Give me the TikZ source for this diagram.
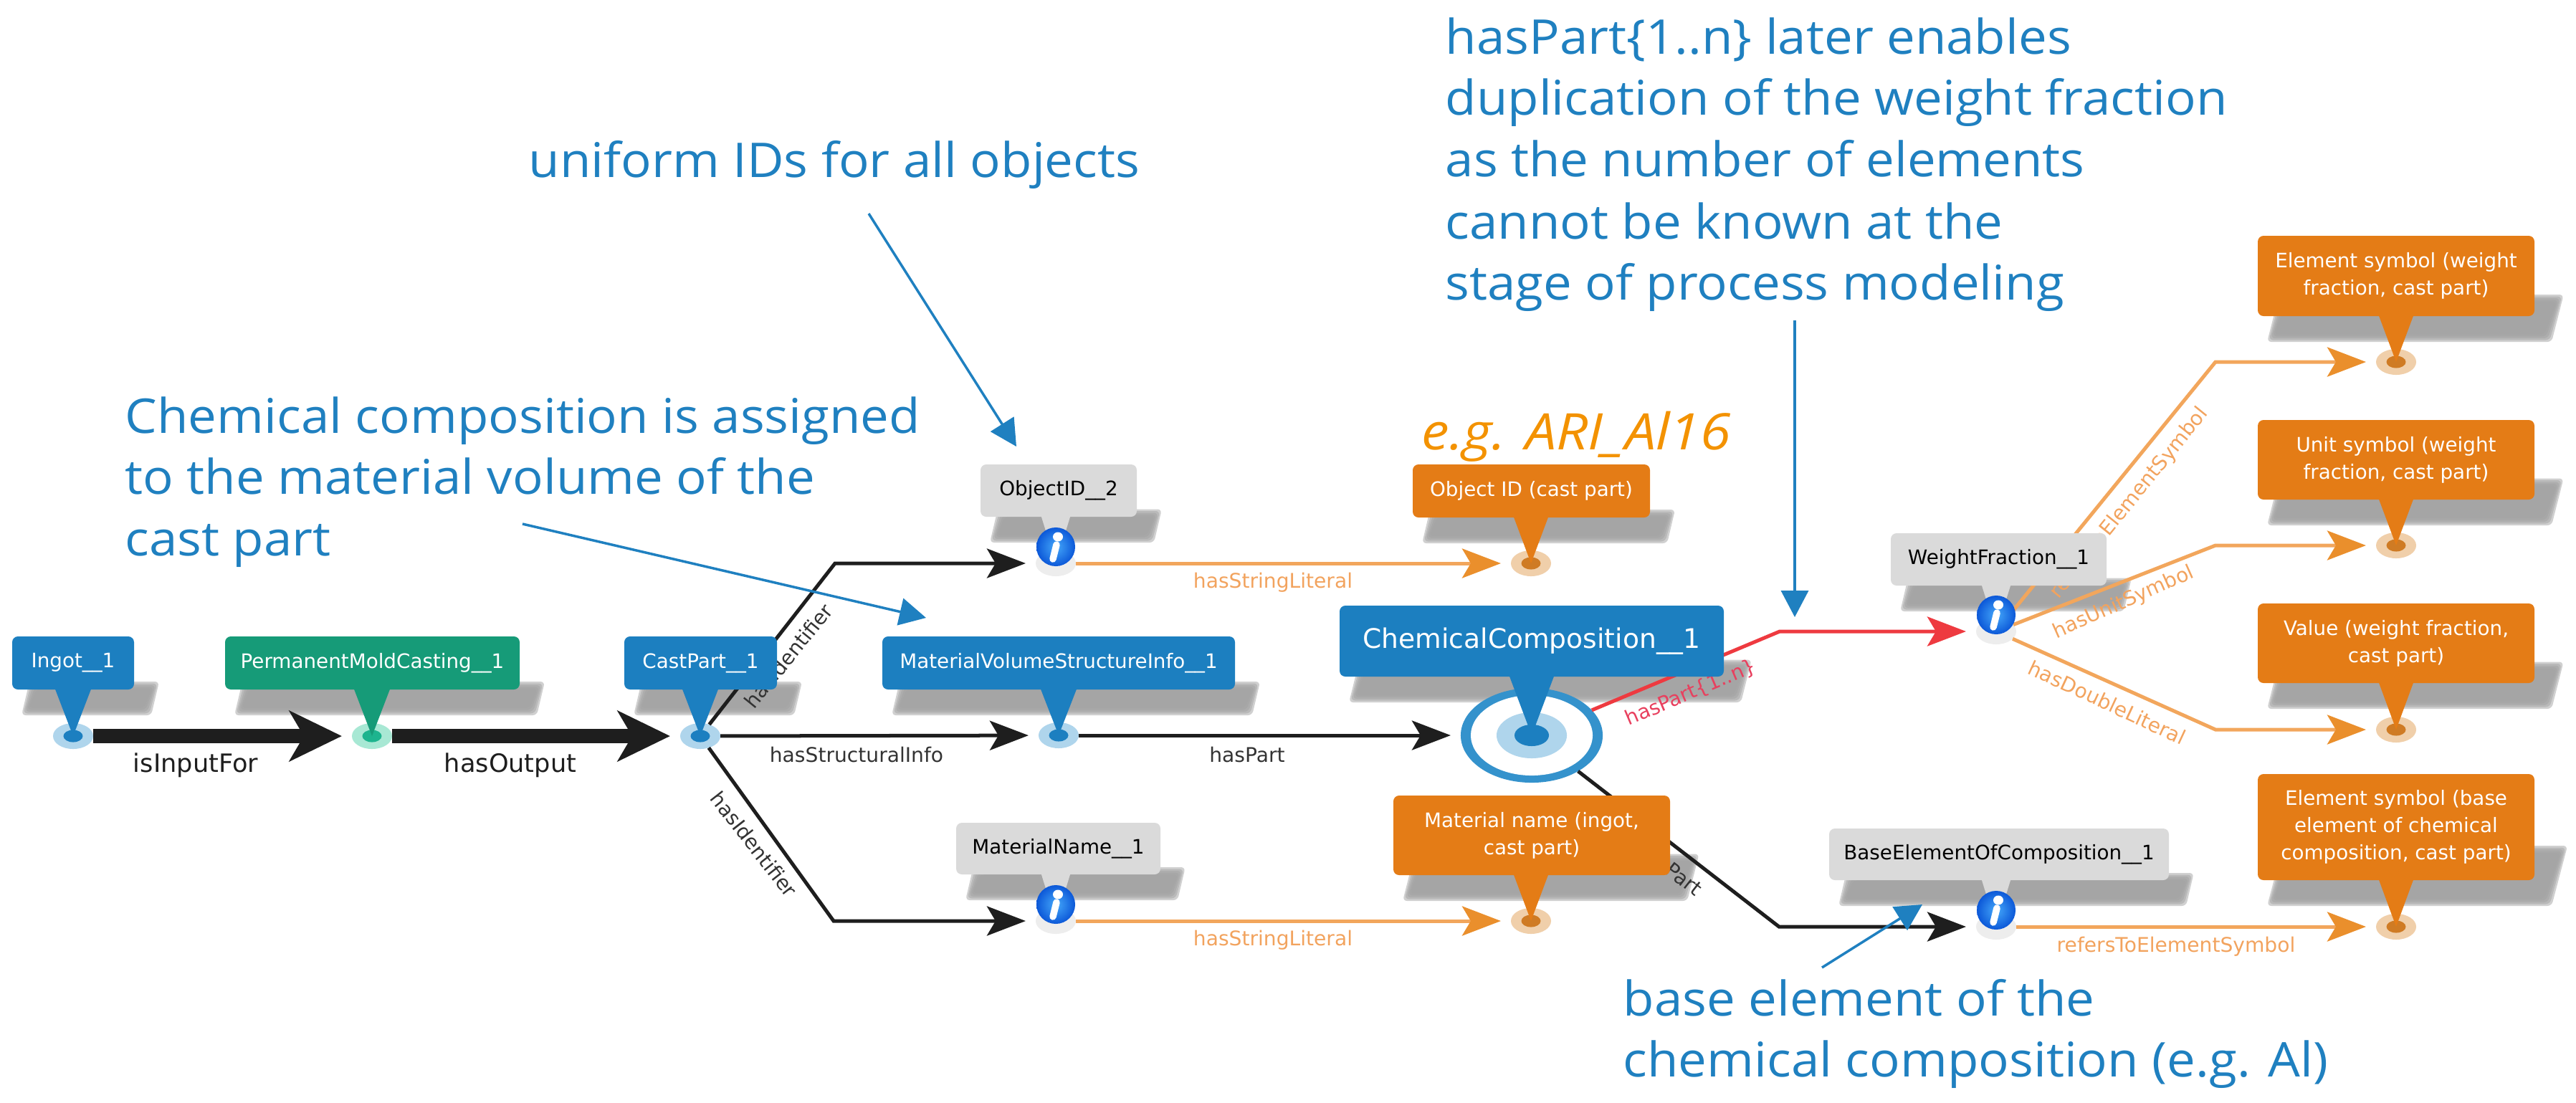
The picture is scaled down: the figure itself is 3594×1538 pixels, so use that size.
\documentclass[tikz,border=0pt]{standalone}
\usepackage{fontspec}
\usetikzlibrary{arrows.meta,shapes.geometric}
\newfontfamily\djv{DejaVu Sans}
\newfontfamily\blu{Open Sans}[FakeStretch=1.06]
\newfontfamily\egf{Open Sans}[FakeStretch=1.1]
\definecolor{cblue}{HTML}{1C7FC0}
\definecolor{cbluel}{HTML}{AFD5EC}
\definecolor{cring}{HTML}{3492CC}
\definecolor{cgreen}{HTML}{169B78}
\definecolor{cgreenl}{HTML}{A8E8D4}
\definecolor{cgreenc}{HTML}{1DB48E}
\definecolor{corange}{HTML}{E47C16}
\definecolor{corangel}{HTML}{F0CFAA}
\definecolor{corangec}{HTML}{CF7B24}
\definecolor{cgray}{HTML}{DADADA}
\definecolor{cgrayb}{HTML}{C4C4C4}
\definecolor{chalo}{HTML}{EDEDED}
\definecolor{cshadow}{HTML}{A2A2A2}
\definecolor{cline}{HTML}{1E1E1E}
\definecolor{clab}{HTML}{333333}
\definecolor{coline}{HTML}{F2A65C}
\definecolor{cohead}{HTML}{EA8F2C}
\definecolor{colab}{HTML}{F2A35E}
\definecolor{cred}{HTML}{EE3A40}
\definecolor{credl}{HTML}{E8405E}
\definecolor{cnote}{HTML}{1F80C0}
\definecolor{ceg}{HTML}{F39200}
\definecolor{cicona}{HTML}{45A8FA}
\definecolor{ciconb}{HTML}{0C58D8}
\tikzset{
  pt/.style={ellipse,inner sep=0pt,outer sep=0pt,minimum width=.56cm,minimum height=.36cm},
  box/.style={rectangle,rounded corners=.08cm,inner sep=0pt,outer sep=0pt,align=center,
     font=\djv\fontsize{7.9}{10.8}\selectfont},
  wbox/.style={box,text=white},
  gbox/.style={box,fill=cgray},
  lbl/.style={inner sep=0pt,font=\djv\fontsize{8}{10}\selectfont,text=clab},
  olbl/.style={lbl,text=colab},
  big/.style={lbl,font=\djv\fontsize{10}{12}\selectfont,text=cline},
  thick arr/.style={line width=.2cm,draw=cline,shorten >=.14cm,
     -{Stealth[length=.73cm,width=.70cm,inset=.2cm,color=cline]}},
  thin arr/.style={line width=.05cm,draw=cline,shorten >=.14cm,line join=miter,
     -{Stealth[length=.54cm,width=.41cm,inset=.12cm,color=cline]}},
  o arr/.style={line width=.05cm,draw=coline,shorten >=.14cm,
     -{Stealth[length=.54cm,width=.41cm,inset=.12cm,color=cohead]}},
  r arr/.style={line width=.05cm,draw=cred,shorten >=.14cm,
     -{Stealth[length=.54cm,width=.41cm,inset=.12cm,color=cred]}},
  note/.style={inner sep=0pt,anchor=base west,text=cnote,font=\blu\fontsize{19}{24.3}\selectfont,align=left},
  note arr/.style={line width=.035cm,draw=cnote,-{Triangle[length=.37cm,width=.38cm,color=cnote]}},
}
% endpoint: name,x,y,halo,core
\newcommand{\ptnode}[5]{%
  \node[pt,fill=#4] (#1) at (#2,#3) {};
  \fill[#5] (#1.center) ellipse [x radius=.135cm,y radius=.085cm];}
% info icon on top of a gray endpoint
\newcommand{\infoicon}[1]{%
  \begin{scope}[shift={([yshift=.23cm]#1.center)},x=.01cm,y=.01cm]
    \shade[inner color=cicona,outer color=ciconb] (0,0) circle [radius=.27cm];
    \fill[white] (3,14) ellipse [x radius=.07cm,y radius=.065cm];
    \draw[white,line width=.095cm,line cap=round] (1,3) -- (-4,-17);
  \end{scope}}
% box pass 1: skewed ground shadow (x1,y1,x2,y2)
\newcommand{\cbshadow}[9]{%
  \pgfmathsetmacro{\sb}{#4+31}%
  \pgfmathsetmacro{\sh}{.5*(#4-#2)}%
  \pgfmathsetmacro{\st}{\sb-\sh}%
  \pgfmathsetmacro{\ss}{.3*\sh}%
  \foreach \d in {5,2.5,0,-2.5,-5}
    \fill[cshadow,opacity=.5,rounded corners=.06cm]
      ({#1+18-\d},{\sb+\d}) -- ({#3+19+\d},{\sb+\d}) -- ({#3+19+\ss+\d},{\st-\d}) -- ({#1+18+\ss-\d},{\st-\d}) -- cycle;}
% box pass 2: name in #5, target #6, half base #7, style #8, text #9
\newcommand{\cbbox}[9]{%
  \node[#8,minimum width={(#3-#1)*0.01cm},minimum height={(#4-#2)*0.01cm}] (#5)
     at ({(#1+#3)/2},{(#2+#4)/2}) {#9};
  \path[#8,sharp corners,draw=none] ([xshift=-#7 cm,yshift=.03cm]#6.center |- #5.south) -- ([xshift=#7 cm,yshift=.03cm]#6.center |- #5.south) -- (#6.center) -- cycle;}
\newcommand{\boxlist}{%
  \cb{17}{888}{187}{962}{bIngot}{ingot}{.26}{wbox,fill=cblue}{Ingot\_\_1}
  \cb{314}{888}{725}{962}{bPerm}{perm}{.26}{wbox,fill=cgreen}{PermanentMoldCasting\_\_1}
  \cb{871}{888}{1084}{962}{bCast}{cast}{.26}{wbox,fill=cblue}{CastPart\_\_1}
  \cb{1368}{648}{1586}{721}{bObj}{obj}{.21}{gbox}{ObjectID\_\_2}
  \cb{1231}{888}{1723}{962}{bMv}{mv}{.26}{wbox,fill=cblue}{MaterialVolumeStructureInfo\_\_1}
  \cb{1971}{648}{2302}{722}{bObjId}{objid}{.25}{wbox,fill=corange}{Object ID (cast part)}
  \cb{1334}{1148}{1619}{1220}{bMat}{mat}{.21}{gbox}{MaterialName\_\_1}
  \cb{1944}{1110}{2330}{1221}{bMatN}{matn}{.25}{wbox,fill=corange}{Material name (ingot,\\cast part)}
  \cb{2638}{744}{2939}{817}{bWf}{wf}{.21}{gbox}{WeightFraction\_\_1}
  \cb{2552}{1156}{3026}{1228}{bBase}{base}{.21}{gbox}{BaseElementOfComposition\_\_1}
  \cb{3150}{329}{3536}{441}{bEs}{es}{.25}{wbox,fill=corange}{Element symbol (weight\\fraction, cast part)}
  \cb{3150}{586}{3536}{697}{bUs}{us}{.25}{wbox,fill=corange}{Unit symbol (weight\\fraction, cast part)}
  \cb{3150}{842}{3536}{953}{bVa}{va}{.25}{wbox,fill=corange}{Value (weight fraction,\\cast part)}
  \cb{3150}{1080}{3536}{1228}{bBs}{bs}{.25}{wbox,fill=corange}{Element symbol (base\\element of chemical\\composition, cast part)}
  \cb{1869}{845}{2405}{944}{bChem}{chem}{.32}{wbox,fill=cblue,font=\djv\fontsize{10.7}{13}\selectfont}{ChemicalComposition\_\_1}
}
\begin{document}
\begin{tikzpicture}[x=.01cm,y=-.01cm]
\useasboundingbox (0,0) rectangle (3594,1538);
% shadows
\let\cb\cbshadow \boxlist
% endpoints
\ptnode{ingot}{102}{1027}{cbluel}{cblue}
\ptnode{perm}{519}{1027}{cgreenl}{cgreenc}
\ptnode{cast}{977}{1027}{cbluel}{cblue}
\ptnode{mv}{1477}{1026}{cbluel}{cblue}
\node[pt,fill=chalo] (obj) at (1473,786) {};
\node[pt,fill=chalo] (mat) at (1473,1285) {};
\node[pt,fill=chalo] (wf) at (2785,881) {};
\node[pt,fill=chalo] (base) at (2785,1293) {};
\ptnode{objid}{2136}{786}{corangel}{corangec}
\ptnode{matn}{2136}{1285}{corangel}{corangec}
\ptnode{es}{3343}{505}{corangel}{corangec}
\ptnode{us}{3343}{761}{corangel}{corangec}
\ptnode{va}{3343}{1018}{corangel}{corangec}
\ptnode{bs}{3343}{1293}{corangel}{corangec}
\node[ellipse,inner sep=0pt,outer sep=0pt,minimum width=1.98cm,minimum height=1.32cm,fill=cring] (chem) at (2137,1026) {};
\fill[white] (chem.center) ellipse [x radius=.85cm,y radius=.56cm];
\fill[cbluel] (chem.center) ellipse [x radius=.49cm,y radius=.32cm];
\fill[cblue] (chem.center) ellipse [x radius=.24cm,y radius=.15cm];
% bends
\coordinate (bU) at (1165,786);
\coordinate (bL) at (1163,1285);
\coordinate (bR) at (2483,881);
\coordinate (bB) at (2482,1293);
\coordinate (bE) at (3091,505);
\coordinate (bN) at (3091,761);
\coordinate (bD) at (3091,1018);
% connectors
\draw[thick arr] (ingot) -- (perm);
\draw[thick arr] (perm) -- (cast);
\draw[thin arr] (cast) -- (bU) -- (obj);
\draw[thin arr] (cast) -- (mv);
\draw[thin arr] (cast) -- (bL) -- (mat);
\draw[thin arr] (mv) -- (chem);
\draw[thin arr] (chem) -- (bB) -- (base);
\draw[r arr] (chem) -- (bR) -- (wf);
\draw[o arr] (obj) -- (objid);
\draw[o arr] (mat) -- (matn);
\draw[o arr] (wf) -- (bE) -- (es);
\draw[o arr] (wf) -- (bN) -- (us);
\draw[o arr] (wf) -- (bD) -- (va);
\draw[o arr] (base) -- (bs);
% connector labels
\node[big] (lA) at (273,1068) {isInputFor};
\node[big] (lB) at (712,1068) {hasOutput};
\node[lbl] (lC) at (1195,1053) {hasStructuralInfo};
\node[lbl] (lD) at (1740,1053) {hasPart};
\node[lbl,rotate=51] (lE) at (1100,915) {hasIdentifier};
\node[lbl,rotate=-52] (lF) at (1052,1178) {hasIdentifier};
\node[olbl] (lG) at (1776,813) {hasStringLiteral};
\node[olbl] (lH) at (1776,1312) {hasStringLiteral};
\node[lbl,text=credl,rotate=23] (lI) at (2359,967) {hasPart\{1..n\}};
\node[olbl,rotate=51] (lJ) at (2971,702) {refersToElementSymbol};
\node[olbl,rotate=24] (lK) at (2963,841) {hasUnitSymbol};
\node[olbl,rotate=-25] (lL) at (2940,980) {hasDoubleLiteral};
\node[olbl] (lM) at (3036,1321) {refersToElementSymbol};
\node[lbl,rotate=-38] (lN) at (2330,1211) {hasPart};
% boxes
\let\cb\cbbox \boxlist
% info icons
\infoicon{obj}
\infoicon{mat}
\infoicon{wf}
\infoicon{base}
% annotations
\node[note] (n1) at (737,247) {uniform IDs for all objects};
\node[note] (n2) at (174,604) {Chemical composition is assigned};
\node[note] (n3) at (174,689) {to the material volume of the};
\node[note] (n4) at (174,775) {cast part};
\node[note] (n5) at (2016,75) {hasPart\{1..n\} later enables};
\node[note] (n6) at (2016,160) {duplication of the weight fraction};
\node[note] (n7) at (2016,246) {as the number of elements};
\node[note] (n8) at (2016,333) {cannot be known at the};
\node[note] (n9) at (2016,418) {stage of process modeling};
\node[note] (n10) at (2264,1417) {base element of the};
\node[note] (n11) at (2264,1502) {chemical composition (e.g. Al)};
\node[inner sep=0pt,anchor=base west,text=ceg,font=\egf\itshape\fontsize{20}{24}\selectfont] (n12) at (1983,627) {e.g. ARI\_Al16};
\coordinate (a1s) at (1212,298); \coordinate (a1e) at (1418,623);
\coordinate (a2s) at (729,731); \coordinate (a2e) at (1292,862);
\coordinate (a3s) at (2504,447); \coordinate (a3e) at (2504,861);
\coordinate (a4s) at (2542,1350); \coordinate (a4e) at (2682,1262);
\draw[note arr] (a1s) -- (a1e);
\draw[note arr] (a2s) -- (a2e);
\draw[note arr] (a3s) -- (a3e);
\draw[note arr] (a4s) -- (a4e);
\end{tikzpicture}
\end{document}
